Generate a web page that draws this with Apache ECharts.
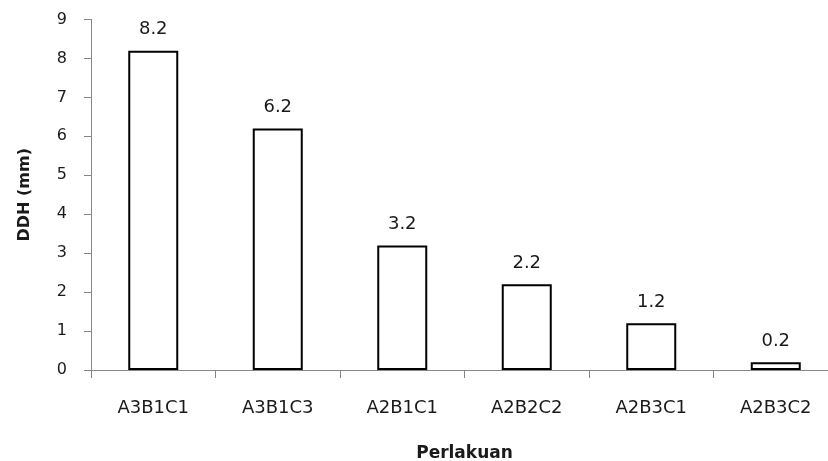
<!DOCTYPE html>
<html>
<head>
<meta charset="utf-8">
<script src="https://cdn.jsdelivr.net/npm/echarts@6/dist/echarts.min.js"></script>
<style>
html,body{margin:0;padding:0;background:#fff;}
#c{width:828px;height:461px;}
</style>
</head>
<body>
<div id="c"></div>
<script>
var categories = ['A3B1C1', 'A3B1C3', 'A2B1C1', 'A2B2C2', 'A2B3C1', 'A2B3C2'];
var ddhValues = [8.2, 6.2, 3.2, 2.2, 1.2, 0.2];
var yTicks = [0, 1, 2, 3, 4, 5, 6, 7, 8, 9];

var chart = echarts.init(document.getElementById('c'));
var font = 'DejaVu Sans';
chart.setOption({
  animation: false,
  backgroundColor: '#ffffff',
  grid: { left: 91, width: 747, top: 19.5, height: 350.5, containLabel: false, outerBoundsMode: 'none' },
  xAxis: {
    type: 'category',
    data: categories,
    name: 'Perlakuan',
    nameLocation: 'middle',
    nameGap: 75,
    nameTextStyle: { fontFamily: font, fontSize: 17, fontWeight: 'bold', color: '#1a1a1a' },
    axisLine: { show: true, lineStyle: { color: '#878787', width: 1 } },
    axisTick: { show: true, length: 8, lineStyle: { color: '#878787' } },
    axisLabel: { fontFamily: font, fontSize: 18, color: '#1a1a1a', margin: 29, interval: 0 },
    splitLine: { show: false }
  },
  yAxis: {
    type: 'value',
    min: yTicks[0],
    max: yTicks[yTicks.length - 1],
    interval: 1,
    name: 'DDH (mm)',
    nameLocation: 'middle',
    nameGap: 58,
    nameRotate: 90,
    nameTextStyle: { fontFamily: font, fontSize: 16, fontWeight: 'bold', color: '#1a1a1a' },
    axisLine: { show: true, lineStyle: { color: '#878787', width: 1 } },
    axisTick: { show: true, length: 7, lineStyle: { color: '#878787' } },
    axisLabel: { fontFamily: font, fontSize: 16, color: '#1a1a1a', margin: 24 },
    splitLine: { show: false }
  },
  series: [{
    type: 'bar',
    data: ddhValues,
    barWidth: 50,
    itemStyle: { color: '#ffffff', borderColor: '#000', borderWidth: 2 },
    label: {
      show: true,
      position: 'top',
      distance: 12,
      fontFamily: font,
      fontSize: 18,
      color: '#1a1a1a',
      formatter: function (p) { return p.value.toFixed(1); }
    }
  }]
});
</script>
</body>
</html>
